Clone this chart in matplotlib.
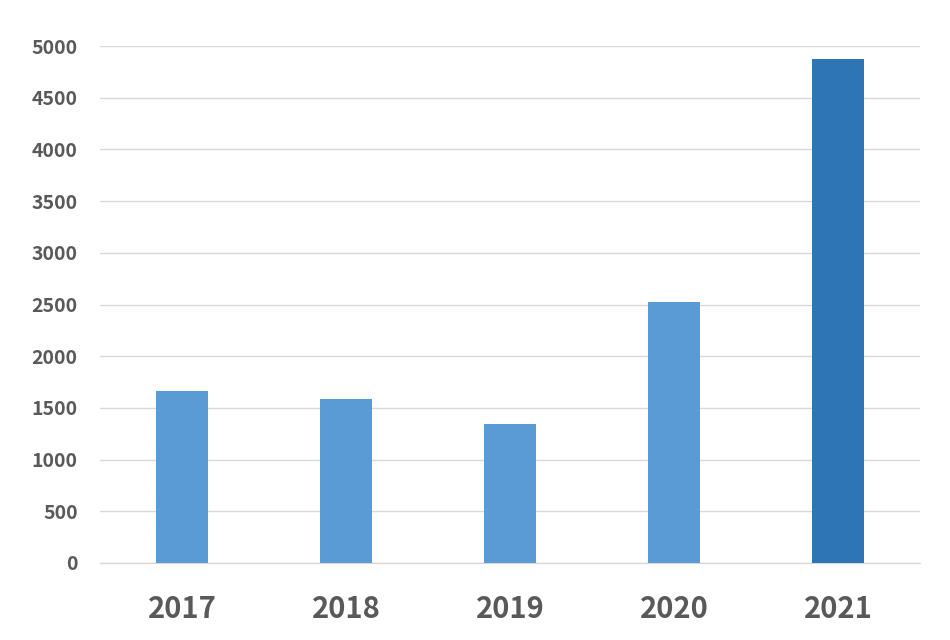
import matplotlib.pyplot as plt

plt.rcParams['font.family'] = ['Noto Sans CJK SC', 'DejaVu Sans']

# values
years = ['2017', '2018', '2019', '2020', '2021']
values = [1667, 1590, 1348, 2522, 4874]
colors = ['#5B9BD5', '#5B9BD5', '#5B9BD5', '#5B9BD5', '#2E75B6']
y_ticks = [0, 500, 1000, 1500, 2000, 2500, 3000, 3500, 4000, 4500, 5000]

fig = plt.figure(figsize=(9.5, 6.4), dpi=100)
ax = fig.add_axes([100 / 950, 1 - 563 / 640, 820 / 950, (563 - 46) / 640])

x = range(len(years))
ax.bar(x, values, width=0.315, color=colors, zorder=3)

ax.set_xlim(-0.5, len(years) - 0.5)
ax.set_ylim(0, 5000)
ax.set_yticks(y_ticks)
ax.set_yticklabels([str(t) for t in y_ticks])
ax.set_xticks(list(x))
ax.set_xticklabels(years)

ax.grid(axis='y', color='#D9D9D9', linewidth=1, zorder=0)
for s in ['top', 'right', 'left']:
    ax.spines[s].set_visible(False)
ax.spines['bottom'].set_color('#D9D9D9')
ax.spines['bottom'].set_linewidth(1)

ax.tick_params(axis='y', length=0, pad=16, labelsize=14, labelcolor='#595959')
ax.tick_params(axis='x', length=0, pad=22, labelsize=21, labelcolor='#595959')
for lab in ax.get_yticklabels() + ax.get_xticklabels():
    lab.set_fontweight('bold')

plt.savefig('out.png', dpi=100)
